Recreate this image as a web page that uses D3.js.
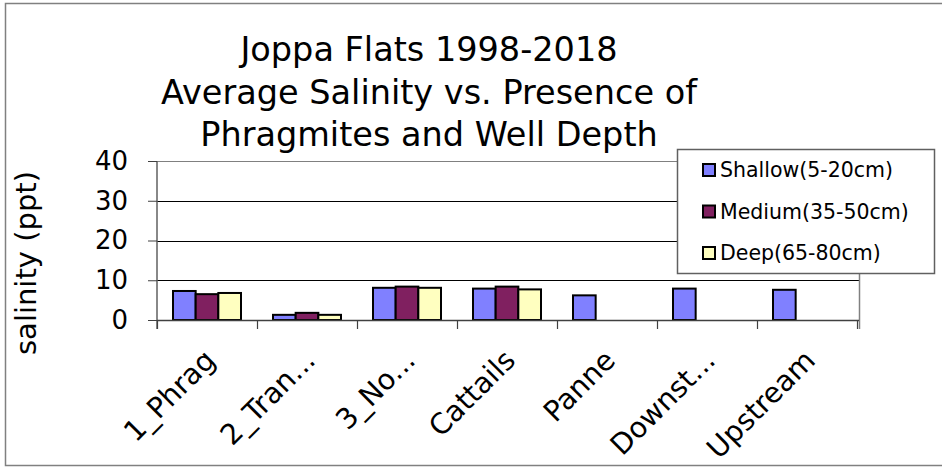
<!DOCTYPE html>
<html><head><meta charset="utf-8">
<script src="https://cdn.jsdelivr.net/npm/d3@7"></script>
<style>body{margin:0;background:#fff}svg{display:block}</style>
</head><body>
<svg id="c" width="942" height="468"></svg>
<script>
const titleLines = ["Joppa Flats 1998-2018", "Average Salinity vs. Presence of", "Phragmites and Well Depth"];
const categories = ["1_Phrag", "2_Tran...", "3_No...", "Cattails", "Panne", "Downst...", "Upstream"];
const seriesNames = ["Shallow(5-20cm)", "Medium(35-50cm)", "Deep(65-80cm)"];
const shallow = [7.3, 1.3, 8.1, 7.9, 6.2, 7.9, 7.6];
const medium = [6.5, 1.8, 8.4, 8.4, null, null, null];
const deep = [6.8, 1.3, 8.1, 7.7, null, null, null];
const yTicks = [0, 10, 20, 30, 40];
const yLabel = "salinity (ppt)";
const colors = ["#8080FF", "#802060", "#FFFFC0"];

const seriesValues = [shallow, medium, deep];
const svg = d3.select("#c");
const font = "'DejaVu Sans', Verdana, sans-serif";
const L = 157, R = 859, T = 161, B = 320;

// outer frame
svg.append("rect").attr("x", 5.5).attr("y", 3.5).attr("width", 945).attr("height", 462)
  .attr("fill", "#fff").attr("stroke", "#808080").attr("stroke-width", 1.5);

const x0 = d3.scaleBand().domain(categories).range([L, L + 700]).paddingInner(0.32).paddingOuter(0.16);
const x1 = d3.scaleBand().domain(seriesNames).range([0, x0.bandwidth()]);
const y = d3.scaleLinear().domain([0, 40]).range([B, T]);
const step = x0.step();

// gridlines
svg.append("g").selectAll("line").data(yTicks.filter(d => d > 0)).join("line")
  .attr("x1", L).attr("x2", R).attr("y1", d => Math.round(y(d)) + 0.5).attr("y2", d => Math.round(y(d)) + 0.5)
  .attr("stroke", d => d === 40 ? "#808080" : "#000").attr("stroke-width", 1);
// right plot border
svg.append("line").attr("x1", R + 0.5).attr("x2", R + 0.5).attr("y1", T).attr("y2", B + 9).attr("stroke", "#808080").attr("stroke-width", 1.5);

// bars
const rows = [];
categories.forEach((c, i) => seriesNames.forEach((s, j) => {
  const v = seriesValues[j][i];
  if (v != null) rows.push({c, s, v, j});
}));
svg.append("g").selectAll("rect").data(rows).join("rect")
  .attr("x", d => x0(d.c) + x1(d.s))
  .attr("y", d => y(d.v))
  .attr("width", x1.bandwidth())
  .attr("height", d => y(0) - y(d.v))
  .attr("fill", d => colors[d.j]).attr("stroke", "#000").attr("stroke-width", 2);

// y axis
const yAxis = svg.append("g").attr("transform", `translate(${L},0)`)
  .call(d3.axisLeft(y).tickValues(yTicks).tickSize(9).tickPadding(20));
yAxis.select(".domain").attr("stroke", "#606060").attr("stroke-width", 1.5);
yAxis.selectAll(".tick line").attr("stroke", "#404040");
yAxis.selectAll("text").attr("font-family", font).attr("font-size", 26).attr("fill", "#000");
yAxis.select(".domain").attr("d", `M0,${T}V${B + 9}`);

// x axis line and ticks at category boundaries
svg.append("line").attr("x1", L).attr("x2", R).attr("y1", B + 0.5).attr("y2", B + 0.5).attr("stroke", "#404040").attr("stroke-width", 1.5);
const bounds = d3.range(categories.length + 1).map(i => L + i * step);
svg.append("g").selectAll("line").data(bounds).join("line")
  .attr("x1", d => d + 0.5).attr("x2", d => d + 0.5).attr("y1", B).attr("y2", B + 9)
  .attr("stroke", "#404040").attr("stroke-width", 1.2);

// x labels
svg.append("g").selectAll("text").data(categories).join("text")
  .attr("transform", d => `translate(${x0(d) + x0.bandwidth() / 2 + 10},362) rotate(-45)`)
  .attr("text-anchor", "end").attr("font-family", font).attr("font-size", 28.5).attr("fill", "#000")
  .text(d => d);

// y axis title
svg.append("text").attr("transform", "translate(36,263) rotate(-90)")
  .attr("text-anchor", "middle").attr("font-family", font).attr("font-size", 29).text(yLabel);

// title
svg.append("g").selectAll("text").data(titleLines).join("text")
  .attr("x", 429).attr("y", (d, i) => 61 + i * 42.5)
  .attr("text-anchor", "middle").attr("font-family", font).attr("font-size", 33.5).attr("fill", "#000")
  .text(d => d);

// legend
const lg = svg.append("g");
lg.append("rect").attr("x", 677.5).attr("y", 149.5).attr("width", 257).attr("height", 124)
  .attr("fill", "#fff").attr("stroke", "#606060").attr("stroke-width", 1.5);
const items = lg.selectAll("g.item").data(seriesNames).join("g").attr("class", "item")
  .attr("transform", (d, i) => `translate(0,${170 + i * 41.5})`);
items.append("rect").attr("x", 703).attr("y", -6).attr("width", 12).attr("height", 12)
  .attr("fill", (d, i) => colors[i]).attr("stroke", "#000").attr("stroke-width", 2);
items.append("text").attr("x", 720).attr("y", 7).attr("font-family", font).attr("font-size", 20.5).text(d => d);
</script>
</body></html>
